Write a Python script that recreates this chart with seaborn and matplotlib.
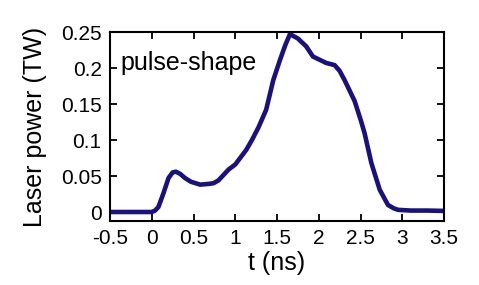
import seaborn as sns
import pandas as pd
import matplotlib
matplotlib.use('Agg')
import matplotlib.pyplot as plt

# pulse shape
t_ns = [-0.5, -0.2, 0.0, 0.04, 0.08, 0.14, 0.2, 0.25, 0.29, 0.34, 0.4, 0.47,
        0.58, 0.68, 0.74, 0.8, 0.92, 1.0, 1.13, 1.2, 1.28, 1.37, 1.455, 1.535,
        1.6, 1.655, 1.75, 1.85, 1.93, 2.0, 2.09, 2.19, 2.25, 2.31, 2.43, 2.51,
        2.55, 2.63, 2.73, 2.8, 2.83, 2.9, 2.95, 3.1, 3.3, 3.5]
power_tw = [0.0, 0.0, 0.0, 0.002, 0.007, 0.026, 0.047, 0.055, 0.056, 0.053, 0.047, 0.042,
            0.038, 0.039, 0.040, 0.044, 0.059, 0.066, 0.086, 0.1, 0.118, 0.142, 0.183, 0.211,
            0.232, 0.247, 0.241, 0.23, 0.216, 0.212, 0.207, 0.204, 0.196, 0.183, 0.154, 0.125,
            0.109, 0.068, 0.031, 0.016, 0.0097, 0.005, 0.003, 0.002, 0.002, 0.0015]

xticks = [-0.5, 0, 0.5, 1, 1.5, 2, 2.5, 3, 3.5]
xlabels = ['-0.5', '0', '0.5', '1', '1.5', '2', '2.5', '3', '3.5']
yticks = [0, 0.05, 0.1, 0.15, 0.2, 0.25]
ylabels = ['0', '0.05', '0.1', '0.15', '0.2', '0.25']

df = pd.DataFrame({'t': t_ns, 'P': power_tw})

sns.set_style('ticks')
plt.rcParams['font.family'] = ['Liberation Sans', 'DejaVu Sans']
plt.rcParams['text.color'] = 'black'
plt.rcParams['axes.labelcolor'] = 'black'

fig = plt.figure(figsize=(4.79, 2.85), dpi=100)
ax = fig.add_axes([110 / 479, 1 - 221 / 285, 334 / 479, 189 / 285])
sns.lineplot(data=df, x='t', y='P', color='#1a1080', linewidth=3.3, ax=ax)

ax.set_xlim(-0.5, 3.5)
ax.set_ylim(-0.0125, 0.25)
ax.set_xticks(xticks)
ax.set_xticklabels(xlabels)
ax.set_yticks(yticks)
ax.set_yticklabels(ylabels)
ax.tick_params(direction='in', length=5, width=1.3, top=True, right=True,
               labelsize=15, colors='black', pad=6)
for s in ax.spines.values():
    s.set_linewidth(1.5)
    s.set_color('black')

ax.set_xlabel('t (ns)', fontsize=18, labelpad=2)
ax.set_ylabel('Laser power (TW)', fontsize=18, labelpad=10)
ax.text(-0.37, 0.207, 'pulse-shape', fontsize=18, va='center', ha='left', color='black')

plt.savefig('out.png', dpi=100)
